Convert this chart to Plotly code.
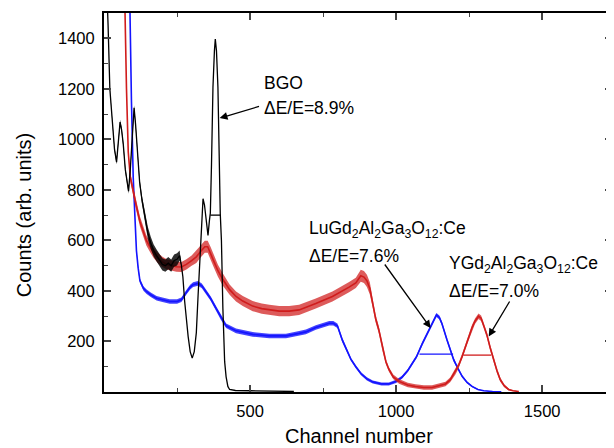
import plotly.graph_objects as go

# ---- data ----
bgo_ch = [2, 8, 14, 20, 28, 36, 43, 50, 55, 60, 66, 73, 80, 84, 90, 97, 103, 108, 114, 122, 130, 140, 150, 160,
          170, 180, 190, 200, 210, 220, 230, 240, 250, 259, 265, 270, 276, 282, 288, 295, 302, 309, 316, 322, 327,
          333, 339, 344, 350, 356, 361, 364, 368, 373, 378, 381, 385, 390, 398, 402, 407, 413, 418, 424, 430, 450,
          500, 550, 600, 650]
bgo_counts = [1600, 1650, 1450, 1200, 1080, 960, 910, 1000, 1068, 1040, 980, 880, 810, 795, 880, 1040, 1125, 1060,
              940, 830, 760, 693, 630, 590, 560, 540, 520, 505, 500, 510, 500, 520, 525, 540, 500, 456, 360, 286,
              220, 160, 134, 160, 234, 380, 496, 680, 765, 740, 680, 620, 680, 708, 900, 1206, 1350, 1397, 1350,
              1206, 706, 600, 330, 120, 60, 22, 10, 6, 5, 4, 3, 2]
# half-width of the noise band around each point
bgo_noise = [0, 0, 0, 4, 6, 8, 10, 10, 10, 10, 10, 10, 10, 10, 10, 10, 10, 10, 12, 14, 16,
             22, 24, 24, 24, 24, 24, 24, 24, 24, 24, 24, 24, 20] + [0] * 36

lu_ch = [80, 89, 94, 100, 106, 111, 117, 123, 135, 146, 160, 180, 200, 225, 250, 265, 282, 295, 305, 322, 335, 350,
         365, 384, 400, 418, 452, 509, 566, 623, 668, 691, 725, 750, 771, 785, 799, 816, 830, 845, 862, 880, 900,
         920, 950, 975, 1000, 1020, 1040, 1055, 1070, 1089, 1112, 1125, 1138, 1148, 1157, 1174, 1186, 1197, 1212,
         1226, 1243, 1260, 1280, 1300, 1330, 1360]
lu_counts = [1600, 1500, 1150, 850, 690, 560, 490, 440, 410, 397, 385, 371, 365, 358, 358, 365, 395, 415, 425, 430,
             420, 395, 370, 330, 295, 262, 242, 228, 222, 222, 232, 238, 255, 265, 272, 272, 262, 205, 170, 130, 100,
             72, 52, 40, 32, 32, 42, 58, 85, 110, 140, 190, 246, 280, 305, 295, 270, 207, 165, 128, 92, 62, 38, 22,
             10, 5, 2, 1]
lu_noise = [4, 4, 4, 4, 4, 6, 8, 9] + [9] * 31 + [6] * 12 + [8] * 9 + [5, 5, 4, 3, 2, 1, 1, 0]

y_ch = [65, 72, 77, 83, 90, 100, 110, 123, 135, 145, 157, 170, 185, 200, 215, 230, 248, 265, 282, 300, 316, 330,
        345, 355, 365, 375, 390, 407, 430, 452, 475, 509, 540, 566, 600, 634, 668, 725, 782, 839, 862, 879, 890,
        900, 910, 920, 930, 941, 953, 965, 975, 990, 1010, 1040, 1066, 1095, 1123, 1150, 1169, 1185, 1203, 1214,
        1226, 1237, 1248, 1260, 1270, 1282, 1291, 1300, 1311, 1322, 1334, 1345, 1356, 1370, 1385, 1400, 1420]
y_counts = [1600, 1500, 1200, 950, 850, 790, 740, 675, 630, 600, 575, 550, 530, 515, 505, 500, 496, 495, 505, 520,
            535, 555, 575, 575, 550, 520, 480, 445, 405, 378, 360, 340, 330, 325, 320, 320, 325, 350, 378, 415, 432,
            460, 455, 440, 410, 350, 290, 245, 175, 120, 90, 60, 42, 28, 22, 18, 18, 25, 32, 48, 80, 105, 140, 180,
            215, 255, 280, 300, 292, 265, 225, 175, 125, 85, 50, 25, 10, 5, 2]
y_noise = [5, 5, 8, 12, 18] + [20] * 5 + [20] * 10 + [24] * 8 + [20] * 13 + [24] * 4 + [18, 15, 14, 12, 10] \
    + [9] * 10 + [11] * 13 + [10, 8, 6, 4, 2, 1]

# FWHM markers (channel limits, half-maximum level)
bgo_fwhm = ([364, 398], 700)
lu_fwhm = ([1080, 1195], 150)
y_fwhm = ([1230, 1325], 146)

y_tickvals = [200, 400, 600, 800, 1000, 1200, 1400]
x_tickvals = [500, 1000, 1500]

BLACK = "#000000"
BLUE = "#1414ff"
RED = "#d01c1c"
FONT = "Liberation Sans, Arial, sans-serif"

# page geometry (the page body adds an 8 px offset)
OFF = 8
W, H = 614 - OFF, 448 - OFF
PX0, PX1, PY0, PY1 = 104, 614, 13, 392
XMAX = 1739


def paper(px, py):
    return (px - PX0) / (PX1 - PX0), (PY1 - py) / (PY1 - PY0)


fig = go.Figure()


def add_spectrum(ch, counts, noise, color, width, band_color):
    upper = [c + n for c, n in zip(counts, noise)]
    lower = [c - n for c, n in zip(counts, noise)]
    fig.add_trace(go.Scatter(x=ch, y=upper, mode="lines", line=dict(width=0, color=band_color),
                             showlegend=False, hoverinfo="skip"))
    fig.add_trace(go.Scatter(x=ch, y=lower, mode="lines", line=dict(width=0, color=band_color),
                             fill="tonexty", fillcolor=band_color, showlegend=False, hoverinfo="skip"))
    fig.add_trace(go.Scatter(x=ch, y=counts, mode="lines", line=dict(color=color, width=width), showlegend=False))


add_spectrum(lu_ch, lu_counts, lu_noise, BLUE, 1.6, "rgba(20,20,255,0.8)")
add_spectrum(y_ch, y_counts, y_noise, RED, 1.6, "rgba(208,28,28,0.72)")
add_spectrum(bgo_ch, bgo_counts, bgo_noise, BLACK, 1.3, "rgba(0,0,0,0.82)")
for (xs, lvl), col in [(lu_fwhm, BLUE), (y_fwhm, RED), (bgo_fwhm, BLACK)]:
    fig.add_trace(go.Scatter(x=xs, y=[lvl, lvl], mode="lines", line=dict(color=col, width=1.3), showlegend=False))

annots = [
    (263, 83, "BGO"),
    (263, 108, "ΔE/E=8.9%"),
    (308, 229, "LuGd<sub>2</sub>Al<sub>2</sub>Ga<sub>3</sub>O<sub>12</sub>:Ce"),
    (308, 256, "ΔE/E=7.6%"),
    (448, 264, "YGd<sub>2</sub>Al<sub>2</sub>Ga<sub>3</sub>O<sub>12</sub>:Ce"),
    (448, 291, "ΔE/E=7.0%"),
]
for px, py, txt in annots:
    x, y = paper(px, py)
    fig.add_annotation(x=x, y=y, xref="paper", yref="paper", text=txt, showarrow=False,
                       xanchor="left", yanchor="middle", font=dict(family=FONT, size=17.5, color="black"))

# axis titles
x, y = paper(360, 436)
fig.add_annotation(x=x, y=y, xref="paper", yref="paper", text="Channel number", showarrow=False,
                   xanchor="center", yanchor="middle", font=dict(family=FONT, size=20, color="black"))
x, y = paper(24, 215)
fig.add_annotation(x=x, y=y, xref="paper", yref="paper", text="Counts (arb. units)", showarrow=False,
                   textangle=-90, xanchor="center", yanchor="middle", font=dict(family=FONT, size=20, color="black"))

# arrows: head on the peak (data coords), tail near the label (page px)
XS = (PX1 - PX0) / XMAX
YS = (PY1 - PY0) / 1500
arrows = [((396, 1084), (261, 106)), ((1118, 253), (385, 263)), ((1317, 220), (512, 300))]
for (hx, hy), (tx, ty) in arrows:
    fig.add_annotation(x=hx, y=hy, xref="x", yref="y", ax=tx - (PX0 + hx * XS), ay=ty - (PY1 - hy * YS),
                       axref="pixel", ayref="pixel", text="", showarrow=True, arrowhead=2, arrowsize=1.2,
                       arrowwidth=1.3, arrowcolor="black")

fig.update_layout(
    width=W, height=H,
    margin=dict(l=PX0 - OFF, r=W - (PX1 - OFF), t=PY0 - OFF, b=H - (PY1 - OFF)),
    paper_bgcolor="white", plot_bgcolor="white",
    font=dict(family=FONT, size=16.5, color="black"),
    xaxis=dict(range=[0, XMAX], tickvals=x_tickvals, ticks="inside", ticklen=7, tickwidth=1.5,
               minor=dict(dtick=250, tick0=0, ticks="inside", ticklen=4, tickwidth=1.2),
               showline=True, linewidth=2, linecolor="black", mirror="allticks", showgrid=False, zeroline=False,
               ticklabelstandoff=3, tickfont=dict(size=16.5)),
    yaxis=dict(range=[0, 1500], tickvals=y_tickvals, ticks="inside", ticklen=7, tickwidth=1.5,
               minor=dict(dtick=100, tick0=0, ticks="inside", ticklen=4, tickwidth=1.2),
               showline=True, linewidth=2, linecolor="black", mirror="allticks", showgrid=False, zeroline=False,
               ticklabelstandoff=4, tickfont=dict(size=16.5)),
    yaxis2=dict(range=[0, 1500], overlaying="y", side="left", tickvals=y_tickvals, ticks="outside", ticklen=5,
                tickwidth=1.5, showticklabels=False, showline=False, showgrid=False, zeroline=False,
                minor=dict(dtick=100, tick0=0, ticks="outside", ticklen=3, tickwidth=1.2)),
)

fig.write_html("out.html")
